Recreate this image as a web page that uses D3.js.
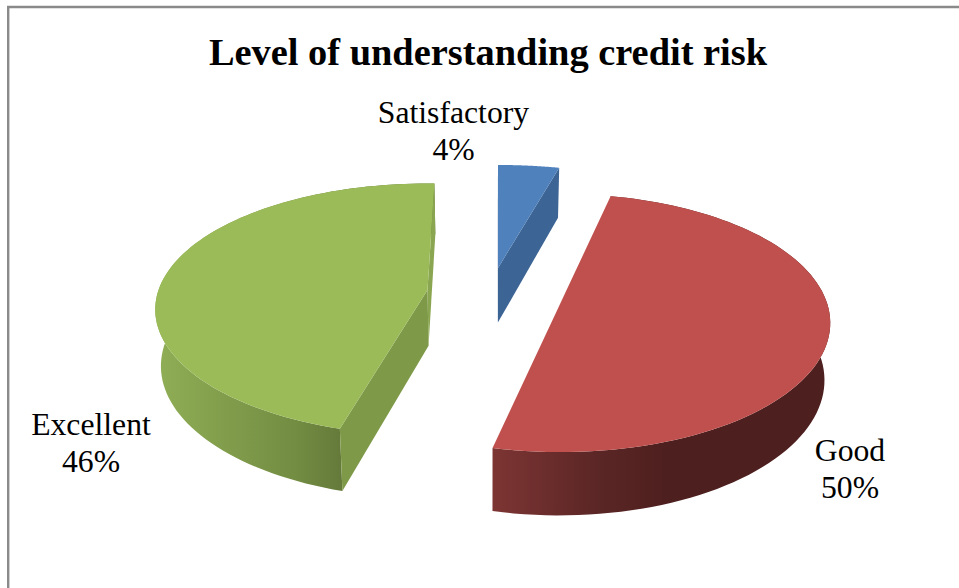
<!DOCTYPE html>
<html>
<head>
<meta charset="utf-8">
<script src="https://cdn.jsdelivr.net/npm/d3@7/dist/d3.min.js"></script>
<style>html,body{margin:0;padding:0;background:#fff}svg{display:block}</style>
</head>
<body>
<div id="chart"></div>
<script>
const title = "Level of understanding credit risk";
const categories = ["Satisfactory", "Good", "Excellent"];
const values = [4, 50, 46];
const topColors = ["#4f81bd", "#c0504d", "#9bbb59"];
const faceColors = ["#3c6494", null, "#7e9a48"];

// 3-D view of each exploded slice (layout only)
const centersX = [498, 560.5, 427.5];
const centersY = [268, 303, 290];
const radiiX = [283, 266.5, 269];
const radiiY = [119, 126, 123];
const rotations = [0, -1.9, 1.7];
const perspective = 0.155;
const labelAnchors = [[453.5, 123], [850, 461], [91, 435]];

const width = 959, height = 588;
const svg = d3.select("#chart").append("svg").attr("width", width).attr("height", height);
svg.append("rect").attr("width", width).attr("height", height).attr("fill", "#fff");

const frame = d3.path();
frame.moveTo(8.2, height); frame.lineTo(8.2, 7); frame.lineTo(width, 7);
svg.append("path").attr("d", frame.toString()).attr("fill", "none").attr("stroke", "#8a8a8a").attr("stroke-width", 2.4);

const depth = d3.scaleLinear().domain([170, 446]).range([50, 63]);
const pie = d3.pie().sort(null).startAngle(0).endAngle(2 * Math.PI);
const arcs = pie(values);
const line = d3.line();

function project(i, angle) {
  const a = angle + rotations[i] * Math.PI / 180;
  const u = Math.sin(a), v = -Math.cos(a), w = 1 - perspective * v;
  return [centersX[i] + radiiX[i] * u / w, centersY[i] + radiiY[i] * v / w];
}
const lower = p => [490 + (p[0] - 490) * 0.983, p[1] + depth(p[1])];
const apexOf = i => [centersX[i], centersY[i]];
function rim(d, i) {
  const n = 90;
  return d3.range(n + 1).map(k => project(i, d.startAngle + (d.endAngle - d.startAngle) * k / n));
}

const defs = svg.append("defs");
const gradRed = defs.append("linearGradient").attr("id", "wall-1").attr("gradientUnits", "userSpaceOnUse")
  .attr("x1", 491).attr("x2", 830).attr("y1", 0).attr("y2", 0);
[[0, "#7d3533"], [0.3, "#5c2726"], [0.52, "#4d1f1e"], [1, "#4d1f1e"]].forEach(s =>
  gradRed.append("stop").attr("offset", s[0]).attr("stop-color", s[1]));
const gradGreen = defs.append("linearGradient").attr("id", "wall-2").attr("gradientUnits", "userSpaceOnUse")
  .attr("x1", 157).attr("x2", 344).attr("y1", 0).attr("y2", 0);
[[0, "#8fae55"], [0.4, "#809c4b"], [0.75, "#728c42"], [1, "#64793a"]].forEach(s =>
  gradGreen.append("stop").attr("offset", s[0]).attr("stop-color", s[1]));

// draw order: back to front
[0, 2, 1].forEach(i => {
  const d = arcs[i];
  const pts = rim(d, i);
  const g = svg.append("g").attr("class", "slice");
  if (i !== 0) {
    g.append("path")
      .attr("d", line(pts.concat(pts.map(lower).reverse())) + "Z")
      .attr("fill", `url(#wall-${i})`);
  }
  if (faceColors[i]) {
    const apex = apexOf(i);
    const ends = i === 0 ? [pts[pts.length - 1]] : [pts[0], pts[pts.length - 1]];
    ends.forEach((p, k) => {
      const face = [apex, p, lower(p), lower(apex)];
      g.append("path").attr("d", line(face) + "Z")
        .attr("fill", i === 2 && k === 1 ? "#8ba651" : faceColors[i]);
    });
    if (i === 0) {
      g.append("path").attr("d", line([pts[0], lower(pts[0]), lower(apex), apex]) + "Z")
        .attr("fill", "#26466e");
    }
  }
  g.append("path")
    .attr("d", line([apexOf(i)].concat(pts)) + "Z")
    .attr("fill", topColors[i]);
});

const serif = "'Liberation Serif','Times New Roman',serif";
svg.append("text").attr("x", 488).attr("y", 65).attr("text-anchor", "middle")
  .attr("font-family", serif).attr("font-weight", "bold").attr("font-size", 38.4)
  .attr("fill", "#000").text(title);

categories.forEach((c, i) => {
  const t = svg.append("text").attr("text-anchor", "middle")
    .attr("font-family", serif).attr("font-size", 31.7).attr("fill", "#000");
  t.append("tspan").attr("x", labelAnchors[i][0]).attr("y", labelAnchors[i][1]).text(c);
  t.append("tspan").attr("x", labelAnchors[i][0]).attr("y", labelAnchors[i][1] + 37)
    .text(d3.format(".0%")(values[i] / d3.sum(values)));
});
</script>
</body>
</html>
